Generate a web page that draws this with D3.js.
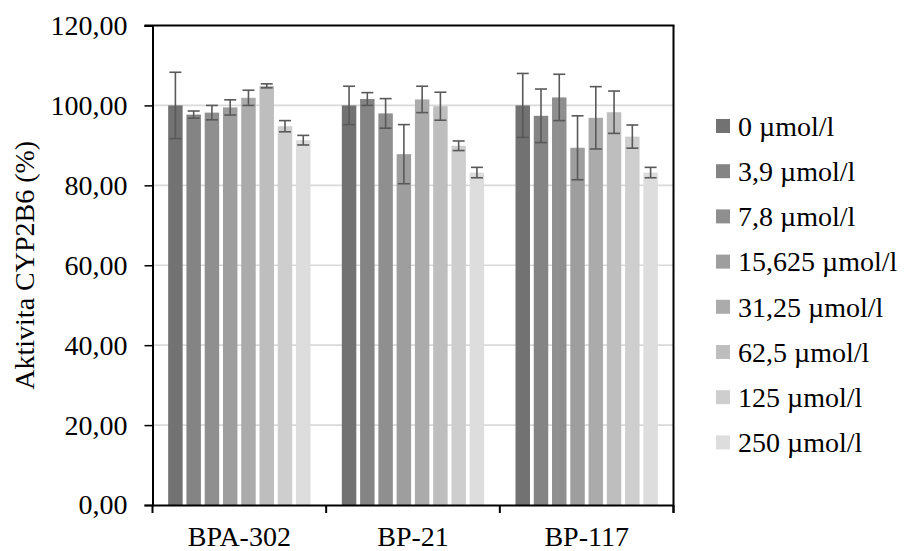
<!DOCTYPE html>
<html>
<head>
<meta charset="utf-8">
<script src="https://cdn.jsdelivr.net/npm/d3@7/dist/d3.min.js"></script>
<style>
  html, body { margin: 0; padding: 0; background: #fff; }
  svg { display: block; }
  text { font-family: "Liberation Serif", "Times New Roman", serif; fill: #000; }
</style>
</head>
<body>
<svg id="chart" width="908" height="551"></svg>
<script>
// ---- data ----
const groups = ["BPA-302", "BP-21", "BP-117"];
const seriesNames = ["0 µmol/l", "3,9 µmol/l", "7,8 µmol/l", "15,625 µmol/l", "31,25 µmol/l", "62,5 µmol/l", "125 µmol/l", "250 µmol/l"];
const seriesColors = ["#727272", "#848484", "#8f8f8f", "#9e9e9e", "#ababab", "#bebebe", "#cecece", "#dddddd"];
// values per group, one entry per series
const valuesBPA302 = [100.0, 97.7, 98.2, 99.5, 101.9, 104.9, 94.8, 91.3];
const errorsBPA302 = [8.3, 0.9, 1.8, 1.9, 1.9, 0.5, 1.4, 1.2];
const valuesBP21 = [100.0, 101.6, 98.0, 87.8, 101.5, 99.8, 89.9, 83.2];
const errorsBP21 = [4.8, 1.6, 3.7, 7.4, 3.3, 3.5, 1.2, 1.3];
const valuesBP117 = [100.0, 97.4, 102.0, 89.4, 96.9, 98.3, 92.2, 83.2];
const errorsBP117 = [8.0, 6.7, 5.8, 8.0, 7.8, 5.3, 2.9, 1.3];
const yTicks = [0, 20, 40, 60, 80, 100, 120];
const yTitle = "Aktivita CYP2B6 (%)";

const groupValues = [valuesBPA302, valuesBP21, valuesBP117];
const groupErrors = [errorsBPA302, errorsBP21, errorsBP117];

// ---- layout ----
const svg = d3.select("#chart");
const L = 152.5, R = 673.5, T = 25.5, B = 505;
const fontSize = 28;

const x0 = d3.scaleBand().domain(groups).range([L, R]).padding(0);
const x1 = d3.scaleBand().domain(d3.range(seriesNames.length))
  .range([0, x0.bandwidth()]).paddingInner(0.208).paddingOuter(0.858);
const y = d3.scaleLinear().domain([0, 120]).range([B, T]);

// gridlines
svg.append("g").selectAll("line").data(yTicks.filter(d => d > 0 && d < 120)).join("line")
  .attr("x1", L).attr("x2", R)
  .attr("y1", d => y(d)).attr("y2", d => y(d))
  .attr("stroke", "#d9d9d9").attr("stroke-width", 1.6);

// bars
const data = [];
groups.forEach((g, gi) => {
  seriesNames.forEach((s, si) => {
    data.push({g, si, v: groupValues[gi][si], e: groupErrors[gi][si]});
  });
});
svg.append("g").selectAll("rect").data(data).join("rect")
  .attr("x", d => x0(d.g) + x1(d.si))
  .attr("width", x1.bandwidth())
  .attr("y", d => y(d.v))
  .attr("height", d => y(0) - y(d.v))
  .attr("fill", d => seriesColors[d.si]);

// error bars
const eg = svg.append("g").attr("stroke", "#595959").attr("stroke-width", 1.6);
data.forEach(d => {
  const cx = x0(d.g) + x1(d.si) + x1.bandwidth() / 2;
  eg.append("line").attr("x1", cx).attr("x2", cx).attr("y1", y(d.v + d.e)).attr("y2", y(d.v - d.e));
  eg.append("line").attr("x1", cx - 6).attr("x2", cx + 6).attr("y1", y(d.v + d.e)).attr("y2", y(d.v + d.e));
  eg.append("line").attr("x1", cx - 6).attr("x2", cx + 6).attr("y1", y(d.v - d.e)).attr("y2", y(d.v - d.e));
});

// frame: top and right
svg.append("line").attr("x1", L - 8).attr("x2", R + 1).attr("y1", T).attr("y2", T)
  .attr("stroke", "#000").attr("stroke-width", 2);
svg.append("line").attr("x1", R).attr("x2", R).attr("y1", T).attr("y2", B + 8)
  .attr("stroke", "#000").attr("stroke-width", 2);

// y axis
const fmt = d => d3.format(".2f")(d).replace(".", ",");
const yAxis = svg.append("g").attr("transform", `translate(${L},0)`)
  .call(d3.axisLeft(y).tickValues(yTicks).tickFormat(fmt).tickSize(8).tickPadding(17));
yAxis.select(".domain").attr("stroke", "#000").attr("stroke-width", 2);
yAxis.selectAll(".tick line").attr("stroke", "#000").attr("stroke-width", 1.5);
yAxis.selectAll("text").attr("font-size", fontSize).attr("font-family", "Liberation Serif").attr("fill", "#000");

// x axis
const xAxis = svg.append("g").attr("transform", `translate(0,${B})`)
  .call(d3.axisBottom(x0).tickSize(0).tickPadding(21));
xAxis.select(".domain").attr("stroke", "#000").attr("stroke-width", 2);
xAxis.selectAll("text").attr("font-size", fontSize).attr("font-family", "Liberation Serif").attr("fill", "#000");
// boundary ticks
const bounds = [L, ...groups.map(g => x0(g) + x0.bandwidth())];
svg.append("g").selectAll("line").data(bounds).join("line")
  .attr("x1", d => d).attr("x2", d => d).attr("y1", B).attr("y2", B + 8)
  .attr("stroke", "#000").attr("stroke-width", 2);

// y title
svg.append("text")
  .attr("transform", `translate(34,${(T + B) / 2}) rotate(-90)`)
  .attr("text-anchor", "middle")
  .attr("font-size", fontSize)
  .text(yTitle);

// legend
const lg = svg.append("g").attr("transform", "translate(716,119)");
const rowH = 45.2;
seriesNames.forEach((s, i) => {
  const row = lg.append("g").attr("transform", `translate(0,${i * rowH})`);
  row.append("rect").attr("x", 0).attr("y", 0).attr("width", 14).attr("height", 14).attr("fill", seriesColors[i]);
  row.append("text").attr("x", 22).attr("y", 7).attr("dy", "0.35em").attr("font-size", fontSize).text(s);
});
</script>
</body>
</html>
